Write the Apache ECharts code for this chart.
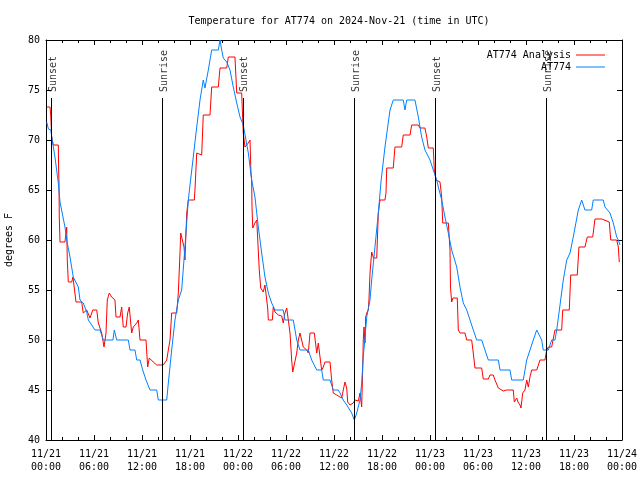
<!DOCTYPE html>
<html>
<head>
<meta charset="utf-8">
<script src="https://cdn.jsdelivr.net/npm/echarts@6/dist/echarts.min.js"></script>
<style>html,body{margin:0;padding:0;background:#fff}#c{width:640px;height:480px}</style>
</head>
<body>
<div id="c"></div>
<script>
// hours since 2024-11-21 00:00 UTC
const xTickLabels = ['11/21\n00:00','11/21\n06:00','11/21\n12:00','11/21\n18:00','11/22\n00:00','11/22\n06:00','11/22\n12:00','11/22\n18:00','11/23\n00:00','11/23\n06:00','11/23\n12:00','11/23\n18:00','11/24\n00:00'];

const analysisHours = [0.09,0.5,0.59,0.71,0.91,1.54,1.58,1.62,1.66,1.75,2.37,2.44,2.59,2.66,2.79,3.21,3.37,3.75,4.46,4.66,5.09,5.5,5.84,6.34,6.54,6.96,7.25,7.5,7.66,7.91,8.21,8.62,8.75,9.25,9.46,9.66,10.0,10.21,10.41,10.71,10.91,11.34,11.54,11.75,12.5,12.71,12.91,13.41,13.84,14.66,14.87,15.09,15.29,15.5,15.71,16.34,16.54,16.75,16.84,17.09,17.25,17.37,17.59,17.79,18.54,18.62,18.84,19.0,19.46,19.66,20.5,20.71,21.54,21.75,22.59,22.79,23.62,23.84,24.46,24.66,24.87,25.29,25.5,25.62,25.71,25.75,25.84,26.12,26.34,26.54,26.66,26.84,27.16,27.37,27.59,27.71,27.79,28.29,28.41,28.62,29.04,29.46,29.66,29.87,30.09,30.29,30.5,30.71,30.84,31.09,31.34,31.54,31.75,31.96,32.16,32.59,32.79,33.0,33.54,33.84,34.04,34.25,34.46,34.66,34.87,35.5,35.71,35.91,36.34,36.54,36.96,37.16,37.37,37.59,37.71,38.0,38.41,38.62,39.04,39.25,39.46,39.59,39.66,39.75,39.87,39.96,40.09,40.29,40.37,40.5,40.71,40.91,40.94,41.34,41.54,41.75,42.37,42.5,42.59,43.41,43.62,44.46,44.66,45.5,45.71,46.54,46.75,47.37,47.59,47.79,48.41,48.54,48.75,49.25,49.46,49.59,50.29,50.5,50.56,50.71,50.87,51.41,51.54,51.75,52.37,52.59,53.21,53.41,53.62,54.46,54.66,55.29,55.5,55.91,56.12,56.54,57.16,57.59,58.41,58.54,58.84,59.0,59.25,59.37,59.59,59.75,59.87,60.09,60.29,60.5,60.71,61.34,61.75,62.37,62.59,62.79,63.21,63.62,64.46,64.59,65.41,65.59,66.41,66.62,67.37,67.66,68.34,68.62,69.46,69.66,70.41,70.59,71.34,71.54,71.66];
const analysisTemps = [73.3,73.3,72.5,70.3,69.5,69.5,67,66,62.3,59.8,59.8,60.3,61.3,58,55.8,55.8,56.3,53.8,53.8,52.7,53,52.2,53,53,51.7,50.7,49.3,50.7,54,54.7,54.3,54,52.3,52.3,53.3,51.3,51.3,52.7,53.3,50.7,51.3,51.7,52,50,50,47.3,48.2,47.8,47.5,47.5,47.7,48,49,50,52.7,52.7,54.7,58.7,60.7,60.7,59.3,58,62.7,64,64,65,68.7,68.5,68.5,72.5,72.5,75.3,75.3,77.2,77.2,78.3,78.3,74.7,74.7,70.7,69.3,69.7,70,66.7,66,63.3,61.2,61.7,62,62.2,57,55.2,54.8,55.5,55.3,53.2,52,52,53.3,52.8,52.5,52.4,51.7,52.7,53.2,53.3,50.7,48,46.8,47,48.7,50,50.7,50.8,49.3,49,48.7,50.7,50.7,48.7,49.7,48.3,47,47.3,47.8,47.8,46,44.7,44.5,44.3,44.2,45,45.8,45.2,43.8,43.5,43.7,44,43.9,44.7,43.3,47.3,50,51.3,49.7,52.3,52.7,53,54,56.7,58.8,58.8,58.2,58.2,62.7,64,64,64.7,67.2,67.2,69.3,69.3,70.5,70.5,71.5,71.5,71.2,71.2,70.3,69.2,69.2,67,66,65.8,64.3,61.7,61.7,59,55.3,53.8,54.2,54.2,51,50.7,50.7,50,50,48.7,47.2,47.2,46.1,46.1,46.5,46.5,46,45.2,44.9,45,45,43.8,44.2,43.8,43.5,43.2,44.7,44.5,45,46,45.3,46.3,47,47,48,48,49,49.3,49.3,51,51,53,53,56.5,56.5,59.3,59.3,60.3,60.3,62.1,62.1,62,61.8,60,60,59.3,57.8];

const stationHours = [0.09,0.3,0.6,0.72,1.12,1.54,1.75,2.37,2.59,3.0,3.41,4.04,4.25,4.66,5.09,5.29,6.12,6.75,7.16,8.37,8.54,8.84,10.29,10.5,11.12,11.34,11.75,12.09,12.5,12.75,13.0,13.84,14.04,15.09,15.29,15.71,16.12,16.54,16.96,17.37,17.79,18.0,18.41,18.84,19.25,19.66,19.87,20.29,20.71,21.54,21.75,21.96,22.16,22.59,23.0,23.41,23.84,24.25,24.66,25.29,25.71,26.12,26.54,26.96,27.37,27.79,28.21,28.62,29.66,29.87,30.91,31.34,31.75,32.79,33.21,33.84,34.46,34.66,35.5,35.91,36.54,36.75,37.16,37.59,38.21,38.54,38.84,39.25,39.46,39.66,40.09,40.5,40.71,41.12,41.54,41.87,42.37,43.0,43.41,44.66,44.87,45.09,46.12,46.54,46.96,47.37,48.0,48.41,48.84,49.04,49.46,49.87,50.29,50.71,50.91,51.34,51.75,52.16,52.59,53.0,53.41,53.84,54.46,54.87,55.29,56.54,56.75,58.0,58.21,59.66,60.09,60.5,60.91,61.34,61.54,61.96,62.16,62.79,63.21,63.62,63.84,64.25,64.66,65.09,65.5,65.91,66.54,66.96,67.16,67.37,68.21,68.41,69.66,69.87,70.5,70.91,71.34,71.54,71.75];
const stationTemps = [71.8,71.1,71.0,70.3,68.3,65.7,63.8,61.3,60,58.3,56.3,55.3,54,53.7,52.8,52,51,51,50,50,51,50,50,49,49,48,48,47,46,46,45,45,44,44,45.7,49,52,54,55,59.3,64,65.5,68.3,71.3,74,76,75.2,77,79,79,80,79,78.2,77.8,77,75.3,73.7,72.3,71.5,68.7,66,64.3,61.3,58.7,56.3,54.7,53.7,53,53,52,52,50,49,49,48,47,47,46,46,45,45,44.7,44,43.5,42.7,42,42.7,44,45.7,48.3,52.3,54,56,59.3,62.7,65.8,69.3,73,74,74,73,74,74,72.3,70.3,69,68,67,66,65.3,64,62.3,60.7,59,59,57.3,55.3,53.7,53,52,51,50,50,49,48,48,47,47,46,46,48,49,50,51,51,50,49,49,50,50,51,53.5,56,58,58.7,60.3,63,64,64,63,63,64,64,63.3,62.7,61.7,60.3,60,59.5];

const sunHours = [0.62, 14.54, 24.6, 38.5, 48.67, 62.54];
const sunNames = ['Sunset','Sunrise','Sunset','Sunrise','Sunset','Sunrise'];
const sunLineTop = 74.2;
const sunLabelAt = 74.8;

const zip = (a, b) => a.map((v, i) => [v, b[i]]);
const FONT = 'DejaVu Sans Mono';
const txt = {color: '#000', fontFamily: FONT, fontSize: 10};

const xBase = {
  type: 'value', min: 0, max: 72, interval: 6,
  axisLine: {show: true, onZero: false, lineStyle: {color: '#000', width: 1}},
  axisTick: {show: true, inside: true, length: 5, lineStyle: {color: '#000'}},
  minorTick: {show: true, splitNumber: 3, length: 3, lineStyle: {color: '#000'}},
  splitLine: {show: false}, minorSplitLine: {show: false}
};
const yBase = {
  type: 'value', min: 40, max: 80, interval: 5,
  axisLine: {show: true, onZero: false, lineStyle: {color: '#000', width: 1}},
  axisTick: {show: true, inside: true, length: 5, lineStyle: {color: '#000'}},
  splitLine: {show: false}
};

const chart = echarts.init(document.getElementById('c'), null, {renderer: 'canvas'});
chart.setOption({
  animation: false,
  backgroundColor: '#fff',
  title: {
    text: 'Temperature for AT774 on 2024-Nov-21 (time in UTC)',
    left: 334, top: 10, textAlign: 'center',
    textStyle: Object.assign({fontWeight: 'normal', lineHeight: 12}, txt)
  },
  legend: [
    {data: ['AT774 Analysis'], right: 30, top: 45, align: 'right', icon: 'rect', itemWidth: 29, itemHeight: 1, textStyle: txt, selectedMode: false},
    {data: ['AT774'], right: 30, top: 57, align: 'right', icon: 'rect', itemWidth: 29, itemHeight: 1, textStyle: txt, selectedMode: false}
  ],
  grid: {left: 46, right: 18, top: 40, bottom: 40, containLabel: false, outerBoundsMode: 'none'},
  xAxis: [
    Object.assign({}, xBase, {position: 'bottom',
      axisLabel: Object.assign({margin: 8, lineHeight: 13, formatter: v => xTickLabels[Math.round(v / 6)]}, txt)}),
    Object.assign({}, xBase, {position: 'top', axisLabel: {show: false}})
  ],
  yAxis: [
    Object.assign({}, yBase, {position: 'left',
      name: 'degrees F', nameLocation: 'middle', nameGap: 32, nameRotate: 90,
      nameTextStyle: txt,
      axisLabel: Object.assign({margin: 6}, txt)}),
    Object.assign({}, yBase, {position: 'right', axisLabel: {show: false}})
  ],
  series: [
    {
      name: 'AT774 Analysis', type: 'line', data: zip(analysisHours, analysisTemps),
      symbol: 'none', showSymbol: false, lineStyle: {color: '#ff0000', width: 1}, itemStyle: {color: '#ff0000'}, z: 3
    },
    {
      name: 'AT774', type: 'line', data: zip(stationHours, stationTemps),
      symbol: 'none', showSymbol: false, lineStyle: {color: '#0080ff', width: 1}, itemStyle: {color: '#0080ff'}, z: 4
    },
    {
      name: 'sun', type: 'scatter', symbolSize: 0, silent: true, z: 2,
      data: sunHours.map((h, i) => ({value: [h, sunLabelAt], name: sunNames[i]})),
      label: Object.assign({show: true, position: 'inside', rotate: 90, align: 'left', verticalAlign: 'middle',
        offset: [0, 2], formatter: p => p.name}, txt),
      markLine: {
        silent: true, symbol: 'none', animation: false,
        lineStyle: {color: '#000', width: 1, type: 'solid'},
        label: {show: false},
        data: sunHours.map(h => [{coord: [h, 40]}, {coord: [h, sunLineTop]}])
      }
    }
  ]
});
</script>
</body>
</html>
